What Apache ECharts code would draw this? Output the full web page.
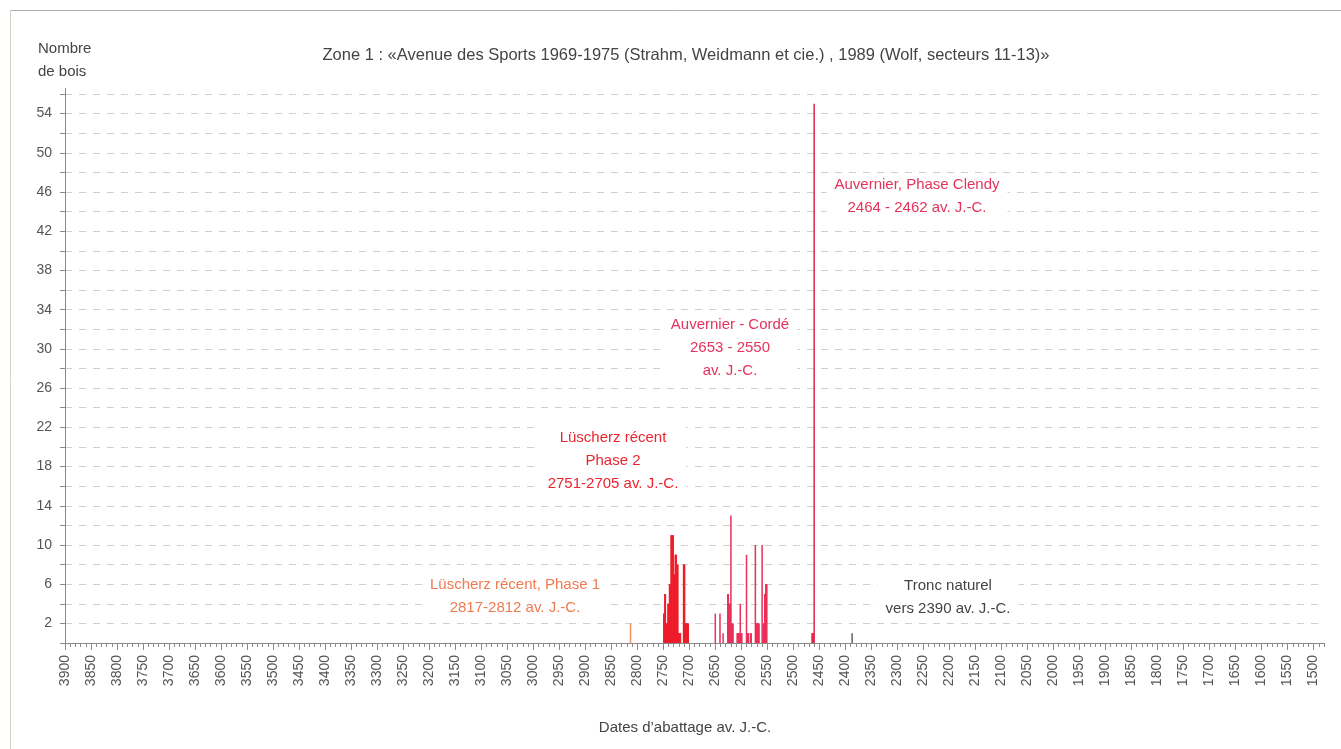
<!DOCTYPE html>
<html lang="fr">
<head>
  <meta charset="UTF-8">
  <title>Zone 1</title>
  <style>
    html,body{margin:0;padding:0;background:#fff;}
    #main{width:1341px;height:749px;}
  </style>
</head>
<body>
  <div id="main"></div>
  <script src="https://cdn.jsdelivr.net/npm/echarts@6/dist/echarts.min.js"></script>
  <script>
    // [année av. J.-C., nombre de bois]
    const luscherz1=[[2813,2]];
    const luscherz2=[
      [2749,3],[2748,3],[2747,5],[2746,5],[2745,2],[2744,2],[2743,2],[2742,2],
      [2741,4],[2740,4],[2739,4],[2738,6],[2737,6],[2736,6],
      [2735,11],[2734,11],[2733,11],[2732,11],[2731,11],
      [2730,7],[2729,7],[2728,7],[2727,9],[2726,9],[2725,9],
      [2724,8],[2723,8],[2722,8],[2721,1],[2720,1],[2719,1],[2718,1],[2717,1],
      [2711,8],[2710,8],[2709,8],
      [2708,2],[2707,2],[2706,2],[2705,2],[2704,2],[2703,2],[2702,2]
    ];
    const corde=[
      [2650,3],[2641,3],[2635,1],[2626,5],[2625,5],
      [2624,4],[2623,4],[2622,4],[2621,4],[2620,13],
      [2619,2],[2618,2],[2617,2],[2616,2],
      [2608,1],[2607,1],[2606,1],[2605,1],[2604,1],[2603,1],[2602,4],[2601,1],[2600,1],[2599,1],
      [2590,9],[2589,1],[2588,1],[2587,1],[2586,1],[2582,1],[2581,1],
      [2573,10],[2572,2],[2571,2],[2570,2],[2569,2],[2568,2],[2567,2],[2566,2],
      [2560,10],[2558,2],[2557,2],[2556,2],[2555,5],[2554,5],[2553,6],[2552,6],[2551,6]
    ];
    const clendy=[[2464,1],[2463,1],[2462,1],[2461,1],[2460,55]];
    const tronc=[[2387,1]];

    const yLabels=[2,6,10,14,18,22,26,30,34,38,42,46,50,54];
    const majorTicks=[];
    for(let v=1500;v<=3900;v+=50) majorTicks.push(v);
    const minorTicks=[];
    for(let v=1480;v<=3900;v+=10) minorTicks.push(v);

    const FONT='"Liberation Sans", Arial, sans-serif';

    const chart=echarts.init(document.querySelector('#main'));

    function bars(name,data,color){
      return {
        name:name,
        type:'bar',
        data:data,
        barWidth:1.5,
        barGap:'-100%',
        itemStyle:{color:color},
        silent:true
      };
    }

    const notes=[
      {x:515,y:596,text:'Lüscherz récent, Phase 1\n2817-2812 av. J.-C.',color:'#f07a50'},
      {x:613,y:461,text:'Lüscherz récent\nPhase 2\n2751-2705 av. J.-C.',color:'#ea2530'},
      {x:730,y:348,text:'Auvernier - Cordé\n2653 - 2550\nav. J.-C.',color:'#e4335c'},
      {x:917,y:196,text:'Auvernier, Phase Clendy\n2464 - 2462 av. J.-C.',color:'#e4335c'},
      {x:948,y:597,text:'Tronc naturel\nvers 2390 av. J.-C.',color:'#444'}
    ];

    const option={
      backgroundColor:'#fff',
      animation:false,
      grid:{left:65,right:17,top:94,bottom:106},
      xAxis:[
        {
          type:'value',inverse:true,min:1480,max:3900,position:'bottom',
          axisLine:{show:true,lineStyle:{color:'#8a8a8a'}},
          axisTick:{show:true,customValues:majorTicks,length:7,lineStyle:{color:'#8a8a8a'}},
          axisLabel:{customValues:majorTicks,rotate:90,margin:12,color:'#555',fontSize:14,fontFamily:FONT,
            formatter:v=>String(v)},
          splitLine:{show:false}
        },
        {
          type:'value',inverse:true,min:1480,max:3900,position:'bottom',
          axisLine:{show:false},
          axisTick:{show:true,customValues:minorTicks,length:4,lineStyle:{color:'#8a8a8a'}},
          axisLabel:{show:false},
          splitLine:{show:false}
        }
      ],
      yAxis:{
        type:'value',min:0,max:56,interval:2,
        axisLine:{show:true,lineStyle:{color:'#8a8a8a'}},
        axisTick:{show:true,length:5,lineStyle:{color:'#8a8a8a'}},
        axisLabel:{customValues:yLabels,margin:13,color:'#555',fontSize:14,fontFamily:FONT},
        splitLine:{show:true,lineStyle:{color:'#cfcfcf',type:[7,7],width:1}}
      },
      series:[
        bars('Lüscherz récent, Phase 1',luscherz1,'#f29068'),
        bars('Lüscherz récent, Phase 2',luscherz2,'#ee1d2a'),
        bars('Auvernier - Cordé',corde,'#e8305a'),
        bars('Auvernier, Phase Clendy',clendy,'#e32650'),
        bars('Tronc naturel',tronc,'#5a6470')
      ],
      graphic:[
        {type:'line',shape:{x1:10,y1:10.5,x2:1341,y2:10.5},style:{stroke:'#b0b0b0',lineWidth:1},silent:true},
        {type:'line',shape:{x1:10.5,y1:10,x2:10.5,y2:749},style:{stroke:'#d9cfc4',lineWidth:1},silent:true},
        {type:'line',shape:{x1:65.5,y1:88,x2:65.5,y2:95},style:{stroke:'#8a8a8a',lineWidth:1},silent:true},
        {type:'text',x:686,y:55,style:{text:'Zone 1 : «Avenue des Sports 1969-1975 (Strahm, Weidmann et cie.) , 1989 (Wolf, secteurs 11-13)»',
          fill:'#444',font:'16.5px '+FONT,textAlign:'center',textVerticalAlign:'middle'}},
        {type:'text',x:38,y:60,style:{text:'Nombre\nde bois',fill:'#444',font:'15px '+FONT,lineHeight:23,
          textAlign:'left',textVerticalAlign:'middle'}},
        {type:'text',x:685,y:728,style:{text:'Dates d’abattage av. J.-C.',fill:'#444',font:'15px '+FONT,
          textAlign:'center',textVerticalAlign:'middle'}}
      ].concat(notes.map(n=>({
        type:'text',x:n.x,y:n.y,z:10,
        style:{text:n.text,fill:n.color,font:'15px '+FONT,lineHeight:23,textAlign:'center',textVerticalAlign:'middle',
          backgroundColor:'#fff',padding:[0,8]}
      })))
    };
    chart.setOption(option);
  </script>
</body>
</html>
